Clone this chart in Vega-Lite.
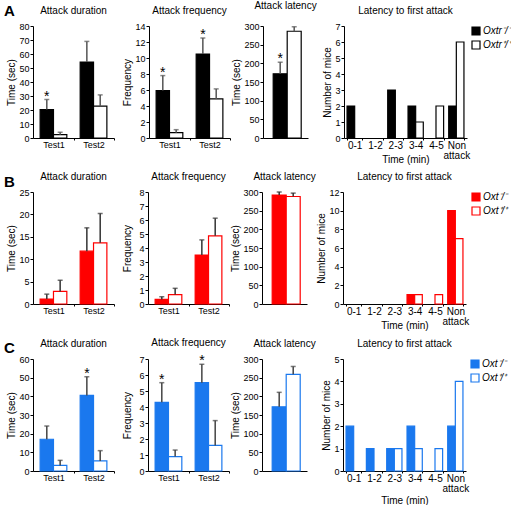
{
"$schema":"https://vega.github.io/schema/vega-lite/v6.json",
"padding":{"left":3,"top":0,"right":0,"bottom":0},
"datasets":{
"A1":[{"k":"T1K","g":"Oxtr⁻/⁻","v":20.3,"e":27.5,"s":"*"},{"k":"T1W","g":"Oxtr⁺/⁺","v":2.4,"e":4.1,"s":""},{"k":"T2K","g":"Oxtr⁻/⁻","v":54.2,"e":69.0,"s":""},{"k":"T2W","g":"Oxtr⁺/⁺","v":22.7,"e":30.8,"s":""}],
"A2":[{"k":"T1K","g":"Oxtr⁻/⁻","v":5.93,"e":7.8,"s":"*"},{"k":"T1W","g":"Oxtr⁺/⁺","v":0.67,"e":1.04,"s":""},{"k":"T2K","g":"Oxtr⁻/⁻","v":10.5,"e":12.5,"s":"*"},{"k":"T2W","g":"Oxtr⁺/⁺","v":4.89,"e":6.14,"s":""}],
"A3":[{"g":"Oxtr⁻/⁻","v":172,"e":203,"s":"*"},{"g":"Oxtr⁺/⁺","v":286,"e":298,"s":""}],
"A4":[{"c":"0-1","g":"Oxtr⁻/⁻","n":2},{"c":"2-3","g":"Oxtr⁻/⁻","n":3},{"c":"3-4","g":"Oxtr⁻/⁻","n":2},{"c":"3-4","g":"Oxtr⁺/⁺","n":1},{"c":"4-5","g":"Oxtr⁺/⁺","n":2},{"c":"Non attack","g":"Oxtr⁻/⁻","n":2},{"c":"Non attack","g":"Oxtr⁺/⁺","n":6}],
"B1":[{"k":"T1K","g":"Oxt⁻/⁻","v":1.1,"e":2.2},{"k":"T1W","g":"Oxt⁺/⁺","v":2.8,"e":5.3},{"k":"T2K","g":"Oxt⁻/⁻","v":11.8,"e":17.0},{"k":"T2W","g":"Oxt⁺/⁺","v":13.65,"e":20.2}],
"B2":[{"k":"T1K","g":"Oxt⁻/⁻","v":0.33,"e":0.52},{"k":"T1W","g":"Oxt⁺/⁺","v":0.67,"e":1.12},{"k":"T2K","g":"Oxt⁻/⁻","v":3.5,"e":4.58},{"k":"T2W","g":"Oxt⁺/⁺","v":4.87,"e":6.13}],
"B3":[{"g":"Oxt⁻/⁻","v":292,"e":300},{"g":"Oxt⁺/⁺","v":288,"e":297}],
"B4":[{"c":"3-4","g":"Oxt⁻/⁻","n":1},{"c":"3-4","g":"Oxt⁺/⁺","n":1},{"c":"4-5","g":"Oxt⁺/⁺","n":1},{"c":"Non attack","g":"Oxt⁻/⁻","n":10},{"c":"Non attack","g":"Oxt⁺/⁺","n":7}],
"C1":[{"k":"T1K","g":"Oxt⁻/⁻","v":17.0,"e":24.1,"s":""},{"k":"T1W","g":"Oxt⁺/⁺","v":3.0,"e":5.7,"s":""},{"k":"T2K","g":"Oxt⁻/⁻","v":40.5,"e":50.5,"s":"*"},{"k":"T2W","g":"Oxt⁺/⁺","v":5.4,"e":10.9,"s":""}],
"C2":[{"k":"T1K","g":"Oxt⁻/⁻","v":4.29,"e":5.52,"s":"*"},{"k":"T1W","g":"Oxt⁺/⁺","v":0.9,"e":1.31,"s":""},{"k":"T2K","g":"Oxt⁻/⁻","v":5.52,"e":6.67,"s":"*"},{"k":"T2W","g":"Oxt⁺/⁺","v":1.6,"e":3.15,"s":""}],
"C3":[{"g":"Oxt⁻/⁻","v":172,"e":210.7},{"g":"Oxt⁺/⁺","v":259,"e":280}],
"C4":[{"c":"0-1","g":"Oxt⁻/⁻","n":2},{"c":"1-2","g":"Oxt⁻/⁻","n":1},{"c":"2-3","g":"Oxt⁻/⁻","n":1},{"c":"2-3","g":"Oxt⁺/⁺","n":1},{"c":"3-4","g":"Oxt⁻/⁻","n":2},{"c":"3-4","g":"Oxt⁺/⁺","n":1},{"c":"4-5","g":"Oxt⁺/⁺","n":1},{"c":"Non attack","g":"Oxt⁻/⁻","n":2},{"c":"Non attack","g":"Oxt⁺/⁺","n":4}]
},
"vconcat":[
{"title":{"text":"A","anchor":"start","fontSize":15,"fontWeight":"bold","offset":-18,"frame":"bounds","dx":-3},
 "spacing":5,
 "resolve":{"scale":{"xOffset":"independent"}},
 "hconcat":[
  {"spacing":0,"hconcat":[
  {"spacing":7,"hconcat":[
   {"title":"Attack duration","width":81,"height":112,"data":{"name":"A1"},
    "encoding":{"x":{"field":"k","type":"nominal","title":null,"scale":{"domain":["T1K","T1W","gap","T2K","T2W"],"paddingInner":0,"paddingOuter":0.534},"axis":{"values":["T1W","T2W"],"labelExpr":"datum.value=='T1W'?'Test1':'Test2'","labelOffset":-20.05,"tickOffset":13.35,"labelAngle":0,"tickSize":2,"labelPadding":0}},
     "y":{"field":"v","type":"quantitative","title":"Time (sec)","scale":{"domain":[0,80],"nice":false},"axis":{"values":[0,10,20,30,40,50,60,70,80],"minExtent":14}}},
    "layer":[
     {"mark":{"type":"bar","stroke":"#000","strokeWidth":1.2},"encoding":{"fill":{"field":"g","type":"nominal","title":null,"scale":{"domain":["Oxtr⁻/⁻","Oxtr⁺/⁺"],"range":["#000000","#ffffff"]},"legend":{"symbolStrokeColor":"#000","offset":1}}}},
     {"mark":{"type":"rule","color":"#555","strokeWidth":1.5},"encoding":{"y2":{"field":"e"}}},
     {"mark":{"type":"tick","color":"#555","size":5,"thickness":1.5},"encoding":{"y":{"field":"e","type":"quantitative","title":"Time (sec)"}}},
     {"mark":{"type":"text","fontSize":14,"baseline":"alphabetic","dy":1},"encoding":{"y":{"field":"e","type":"quantitative","title":"Time (sec)"},"text":{"field":"s"}}}
    ]},
   {"title":"Attack frequency","width":81,"height":112,"data":{"name":"A2"},
    "encoding":{"x":{"field":"k","type":"nominal","title":null,"scale":{"domain":["T1K","T1W","gap","T2K","T2W"],"paddingInner":0,"paddingOuter":0.534},"axis":{"values":["T1W","T2W"],"labelExpr":"datum.value=='T1W'?'Test1':'Test2'","labelOffset":-20.05,"tickOffset":13.35,"labelAngle":0,"tickSize":2,"labelPadding":0}},
     "y":{"field":"v","type":"quantitative","title":"Frequency","scale":{"domain":[0,14],"nice":false},"axis":{"values":[0,2,4,6,8,10,12,14],"minExtent":14}}},
    "layer":[
     {"mark":{"type":"bar","stroke":"#000","strokeWidth":1.2},"encoding":{"fill":{"field":"g","type":"nominal","title":null,"scale":{"domain":["Oxtr⁻/⁻","Oxtr⁺/⁺"],"range":["#000000","#ffffff"]},"legend":{"symbolStrokeColor":"#000","offset":1}}}},
     {"mark":{"type":"rule","color":"#555","strokeWidth":1.5},"encoding":{"y2":{"field":"e"}}},
     {"mark":{"type":"tick","color":"#555","size":5,"thickness":1.5},"encoding":{"y":{"field":"e","type":"quantitative","title":"Frequency"}}},
     {"mark":{"type":"text","fontSize":14,"baseline":"alphabetic","dy":1},"encoding":{"y":{"field":"e","type":"quantitative","title":"Frequency"},"text":{"field":"s"}}}
    ]}
  ]},
   {"title":"Attack latency","width":45,"height":112,"data":{"name":"A3"},
    "encoding":{"x":{"field":"g","type":"nominal","title":null,"scale":{"domain":["Oxtr⁻/⁻","Oxtr⁺/⁺"],"paddingInner":0,"paddingOuter":0.607,"align":0.6},"axis":{"labels":false,"ticks":false}},
     "y":{"field":"v","type":"quantitative","title":"Time (sec)","scale":{"domain":[0,300],"nice":false},"axis":{"values":[0,50,100,150,200,250,300]}}},
    "layer":[
     {"mark":{"type":"bar","stroke":"#000","strokeWidth":1.2},"encoding":{"fill":{"field":"g","type":"nominal","title":null,"scale":{"domain":["Oxtr⁻/⁻","Oxtr⁺/⁺"],"range":["#000000","#ffffff"]},"legend":{"symbolStrokeColor":"#000","offset":1}}}},
     {"mark":{"type":"rule","color":"#555","strokeWidth":1.5},"encoding":{"y2":{"field":"e"}}},
     {"mark":{"type":"tick","color":"#555","size":5,"thickness":1.5},"encoding":{"y":{"field":"e","type":"quantitative","title":"Time (sec)"}}},
     {"mark":{"type":"text","fontSize":14,"baseline":"alphabetic","dy":1},"encoding":{"y":{"field":"e","type":"quantitative","title":"Time (sec)"},"text":{"field":"s"}}}
    ]}
  ]},
  {"title":"Latency to first attack","width":123,"height":112,"data":{"name":"A4"},
   "mark":{"type":"bar","stroke":"#000","strokeWidth":1.2},
   "encoding":{"x":{"field":"c","type":"nominal","title":"Time (min)","scale":{"domain":["0-1","1-2","2-3","3-4","4-5","Non attack"],"paddingInner":0.25,"paddingOuter":0.15},"axis":{"labelAngle":0,"labelFontSize":10,"labelLineHeight":10,"labelExpr":"datum.value == 'Non attack' ? ['Non','attack'] : datum.label","tickBand":"extent","tickSize":2,"labelPadding":0,"titlePadding":-6}},
    "xOffset":{"field":"g","type":"nominal","scale":{"type":"band","domain":["Oxtr⁻/⁻","Oxtr⁺/⁺"],"paddingInner":0,"paddingOuter":0}},
    "y":{"field":"n","type":"quantitative","title":"Number of mice","scale":{"domain":[0,7],"nice":false},"axis":{"values":[0,1,2,3,4,5,6,7]}},
    "fill":{"field":"g","type":"nominal","title":null,"scale":{"domain":["Oxtr⁻/⁻","Oxtr⁺/⁺"],"range":["#000000","#ffffff"]},"legend":{"symbolStrokeColor":"#000","offset":1}}}}
 ]},
{"title":{"text":"B","anchor":"start","fontSize":15,"fontWeight":"bold","offset":-18,"frame":"bounds","dx":-3},
 "spacing":0,
 "resolve":{"scale":{"xOffset":"independent"}},
 "hconcat":[
  {"spacing":0,"hconcat":[
  {"spacing":7,"hconcat":[
   {"title":"Attack duration","width":81,"height":112,"data":{"name":"B1"},
    "encoding":{"x":{"field":"k","type":"nominal","title":null,"scale":{"domain":["T1K","T1W","gap","T2K","T2W"],"paddingInner":0,"paddingOuter":0.534},"axis":{"values":["T1W","T2W"],"labelExpr":"datum.value=='T1W'?'Test1':'Test2'","labelOffset":-20.05,"tickOffset":13.35,"labelAngle":0,"tickSize":2,"labelPadding":0}},
     "y":{"field":"v","type":"quantitative","title":"Time (sec)","scale":{"domain":[0,25],"nice":false},"axis":{"values":[0,5,10,15,20,25],"minExtent":14}}},
    "layer":[
     {"mark":{"type":"bar","stroke":"#ff0000","strokeWidth":1.2},"encoding":{"fill":{"field":"g","type":"nominal","title":null,"scale":{"domain":["Oxt⁻/⁻","Oxt⁺/⁺"],"range":["#ff0000","#ffffff"]},"legend":{"symbolStrokeColor":"#ff0000","offset":2}}}},
     {"mark":{"type":"rule","color":"#333","strokeWidth":1.5},"encoding":{"y2":{"field":"e"}}},
     {"mark":{"type":"tick","color":"#333","size":5,"thickness":1.5},"encoding":{"y":{"field":"e","type":"quantitative","title":"Time (sec)"}}}
    ]},
   {"title":"Attack frequency","width":81,"height":112,"data":{"name":"B2"},
    "encoding":{"x":{"field":"k","type":"nominal","title":null,"scale":{"domain":["T1K","T1W","gap","T2K","T2W"],"paddingInner":0,"paddingOuter":0.534},"axis":{"values":["T1W","T2W"],"labelExpr":"datum.value=='T1W'?'Test1':'Test2'","labelOffset":-20.05,"tickOffset":13.35,"labelAngle":0,"tickSize":2,"labelPadding":0}},
     "y":{"field":"v","type":"quantitative","title":"Frequency","scale":{"domain":[0,8],"nice":false},"axis":{"values":[0,1,2,3,4,5,6,7,8],"minExtent":14}}},
    "layer":[
     {"mark":{"type":"bar","stroke":"#ff0000","strokeWidth":1.2},"encoding":{"fill":{"field":"g","type":"nominal","title":null,"scale":{"domain":["Oxt⁻/⁻","Oxt⁺/⁺"],"range":["#ff0000","#ffffff"]},"legend":{"symbolStrokeColor":"#ff0000","offset":2}}}},
     {"mark":{"type":"rule","color":"#333","strokeWidth":1.5},"encoding":{"y2":{"field":"e"}}},
     {"mark":{"type":"tick","color":"#333","size":5,"thickness":1.5},"encoding":{"y":{"field":"e","type":"quantitative","title":"Frequency"}}}
    ]}
  ]},
   {"title":"Attack latency","width":45,"height":112,"data":{"name":"B3"},
    "encoding":{"x":{"field":"g","type":"nominal","title":null,"scale":{"domain":["Oxt⁻/⁻","Oxt⁺/⁺"],"paddingInner":0,"paddingOuter":0.607,"align":0.6},"axis":{"labels":false,"ticks":false}},
     "y":{"field":"v","type":"quantitative","title":"Time (sec)","scale":{"domain":[0,300],"nice":false},"axis":{"values":[0,50,100,150,200,250,300]}}},
    "layer":[
     {"mark":{"type":"bar","stroke":"#ff0000","strokeWidth":1.2},"encoding":{"fill":{"field":"g","type":"nominal","title":null,"scale":{"domain":["Oxt⁻/⁻","Oxt⁺/⁺"],"range":["#ff0000","#ffffff"]},"legend":{"symbolStrokeColor":"#ff0000","offset":2}}}},
     {"mark":{"type":"rule","color":"#333","strokeWidth":1.5},"encoding":{"y2":{"field":"e"}}},
     {"mark":{"type":"tick","color":"#333","size":5,"thickness":1.5},"encoding":{"y":{"field":"e","type":"quantitative","title":"Time (sec)"}}}
    ]}
  ]},
  {"title":"Latency to first attack","width":123,"height":112,"data":{"name":"B4"},
   "mark":{"type":"bar","stroke":"#ff0000","strokeWidth":1.2},
   "encoding":{"x":{"field":"c","type":"nominal","title":"Time (min)","scale":{"domain":["0-1","1-2","2-3","3-4","4-5","Non attack"],"paddingInner":0.25,"paddingOuter":0.15},"axis":{"labelAngle":0,"labelFontSize":10,"labelLineHeight":10,"labelExpr":"datum.value == 'Non attack' ? ['Non','attack'] : datum.label","tickBand":"extent","tickSize":2,"labelPadding":0,"titlePadding":-6}},
    "xOffset":{"field":"g","type":"nominal","scale":{"type":"band","domain":["Oxt⁻/⁻","Oxt⁺/⁺"],"paddingInner":0,"paddingOuter":0}},
    "y":{"field":"n","type":"quantitative","title":"Number of mice","scale":{"domain":[0,12],"nice":false},"axis":{"values":[0,2,4,6,8,10,12]}},
    "fill":{"field":"g","type":"nominal","title":null,"scale":{"domain":["Oxt⁻/⁻","Oxt⁺/⁺"],"range":["#ff0000","#ffffff"]},"legend":{"symbolStrokeColor":"#ff0000","offset":2}}}}
 ]},
{"title":{"text":"C","anchor":"start","fontSize":15,"fontWeight":"bold","offset":-18,"frame":"bounds","dx":-3},
 "spacing":5,
 "resolve":{"scale":{"xOffset":"independent"}},
 "hconcat":[
  {"spacing":0,"hconcat":[
  {"spacing":7,"hconcat":[
   {"title":"Attack duration","width":81,"height":112,"data":{"name":"C1"},
    "encoding":{"x":{"field":"k","type":"nominal","title":null,"scale":{"domain":["T1K","T1W","gap","T2K","T2W"],"paddingInner":0,"paddingOuter":0.534},"axis":{"values":["T1W","T2W"],"labelExpr":"datum.value=='T1W'?'Test1':'Test2'","labelOffset":-20.05,"tickOffset":13.35,"labelAngle":0,"tickSize":2,"labelPadding":0}},
     "y":{"field":"v","type":"quantitative","title":"Time (sec)","scale":{"domain":[0,60],"nice":false},"axis":{"values":[0,10,20,30,40,50,60],"minExtent":14}}},
    "layer":[
     {"mark":{"type":"bar","stroke":"#1a78ee","strokeWidth":1.2},"encoding":{"fill":{"field":"g","type":"nominal","title":null,"scale":{"domain":["Oxt⁻/⁻","Oxt⁺/⁺"],"range":["#1a78ee","#ffffff"]},"legend":{"symbolStrokeColor":"#1a78ee","offset":1}}}},
     {"mark":{"type":"rule","color":"#444","strokeWidth":1.5},"encoding":{"y2":{"field":"e"}}},
     {"mark":{"type":"tick","color":"#444","size":5,"thickness":1.5},"encoding":{"y":{"field":"e","type":"quantitative","title":"Time (sec)"}}},
     {"mark":{"type":"text","fontSize":14,"baseline":"alphabetic","dy":1},"encoding":{"y":{"field":"e","type":"quantitative","title":"Time (sec)"},"text":{"field":"s"}}}
    ]},
   {"title":"Attack frequency","width":81,"height":112,"data":{"name":"C2"},
    "encoding":{"x":{"field":"k","type":"nominal","title":null,"scale":{"domain":["T1K","T1W","gap","T2K","T2W"],"paddingInner":0,"paddingOuter":0.534},"axis":{"values":["T1W","T2W"],"labelExpr":"datum.value=='T1W'?'Test1':'Test2'","labelOffset":-20.05,"tickOffset":13.35,"labelAngle":0,"tickSize":2,"labelPadding":0}},
     "y":{"field":"v","type":"quantitative","title":"Frequency","scale":{"domain":[0,7],"nice":false},"axis":{"values":[0,1,2,3,4,5,6,7],"minExtent":14}}},
    "layer":[
     {"mark":{"type":"bar","stroke":"#1a78ee","strokeWidth":1.2},"encoding":{"fill":{"field":"g","type":"nominal","title":null,"scale":{"domain":["Oxt⁻/⁻","Oxt⁺/⁺"],"range":["#1a78ee","#ffffff"]},"legend":{"symbolStrokeColor":"#1a78ee","offset":1}}}},
     {"mark":{"type":"rule","color":"#444","strokeWidth":1.5},"encoding":{"y2":{"field":"e"}}},
     {"mark":{"type":"tick","color":"#444","size":5,"thickness":1.5},"encoding":{"y":{"field":"e","type":"quantitative","title":"Frequency"}}},
     {"mark":{"type":"text","fontSize":14,"baseline":"alphabetic","dy":1},"encoding":{"y":{"field":"e","type":"quantitative","title":"Frequency"},"text":{"field":"s"}}}
    ]}
  ]},
   {"title":"Attack latency","width":45,"height":112,"data":{"name":"C3"},
    "encoding":{"x":{"field":"g","type":"nominal","title":null,"scale":{"domain":["Oxt⁻/⁻","Oxt⁺/⁺"],"paddingInner":0,"paddingOuter":0.607,"align":0.6},"axis":{"labels":false,"ticks":false}},
     "y":{"field":"v","type":"quantitative","title":"Time (sec)","scale":{"domain":[0,300],"nice":false},"axis":{"values":[0,50,100,150,200,250,300]}}},
    "layer":[
     {"mark":{"type":"bar","stroke":"#1a78ee","strokeWidth":1.2},"encoding":{"fill":{"field":"g","type":"nominal","title":null,"scale":{"domain":["Oxt⁻/⁻","Oxt⁺/⁺"],"range":["#1a78ee","#ffffff"]},"legend":{"symbolStrokeColor":"#1a78ee","offset":1}}}},
     {"mark":{"type":"rule","color":"#444","strokeWidth":1.5},"encoding":{"y2":{"field":"e"}}},
     {"mark":{"type":"tick","color":"#444","size":5,"thickness":1.5},"encoding":{"y":{"field":"e","type":"quantitative","title":"Time (sec)"}}}
    ]}
  ]},
  {"title":"Latency to first attack","width":123,"height":112,"data":{"name":"C4"},
   "mark":{"type":"bar","stroke":"#1a78ee","strokeWidth":1.2},
   "encoding":{"x":{"field":"c","type":"nominal","title":"Time (min)","scale":{"domain":["0-1","1-2","2-3","3-4","4-5","Non attack"],"paddingInner":0.25,"paddingOuter":0.15},"axis":{"labelAngle":0,"labelFontSize":10,"labelLineHeight":10,"labelExpr":"datum.value == 'Non attack' ? ['Non','attack'] : datum.label","tickBand":"extent","tickSize":2,"labelPadding":0,"titlePadding":2}},
    "xOffset":{"field":"g","type":"nominal","scale":{"type":"band","domain":["Oxt⁻/⁻","Oxt⁺/⁺"],"paddingInner":0,"paddingOuter":0}},
    "y":{"field":"n","type":"quantitative","title":"Number of mice","scale":{"domain":[0,5],"nice":false},"axis":{"values":[0,1,2,3,4,5]}},
    "fill":{"field":"g","type":"nominal","title":null,"scale":{"domain":["Oxt⁻/⁻","Oxt⁺/⁺"],"range":["#1a78ee","#ffffff"]},"legend":{"symbolStrokeColor":"#1a78ee","offset":1}}}}
 ]}
],
"spacing":8,
"resolve":{"scale":{"fill":"independent","xOffset":"independent"},"legend":{"fill":"independent"}},
"config":{
 "font":"Liberation Sans",
 "view":{"stroke":null},
 "axis":{"grid":false,"domainColor":"#000","tickColor":"#000","labelColor":"#000","titleColor":"#000","labelFontSize":9,"titleFontSize":10,"titleFontWeight":"normal","tickSize":3,"labelPadding":1,"titlePadding":2,"domainWidth":1,"tickWidth":1},
 "title":{"fontSize":10,"fontWeight":"normal","offset":6,"color":"#000"},
 "legend":{"orient":"right","symbolType":"square","symbolSize":64,"symbolStrokeWidth":1.2,"labelFontSize":10,"labelFontStyle":"italic","labelFont":"Liberation Sans","labelColor":"#000","rowPadding":0,"labelOffset":2,"offset":2,"padding":0}
}
}
